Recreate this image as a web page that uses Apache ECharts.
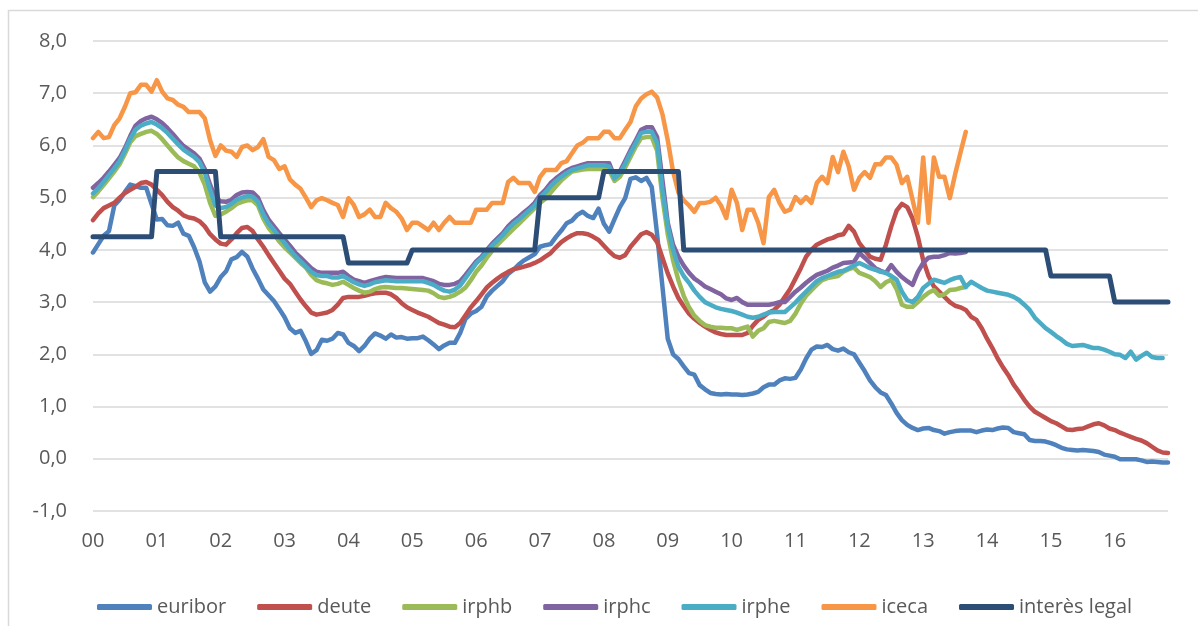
<!DOCTYPE html>
<html>
<head>
<meta charset="utf-8">
<title>tipus d'interès</title>
<script src="https://cdn.jsdelivr.net/npm/echarts@6/dist/echarts.min.js"></script>
<style>
    html, body {margin: 0; padding: 0; background: #fff;}
    #main {width: 1198px; height: 626px;}
</style>
</head>
<body>
<div id="main"></div>
<script>
// anys de l'eix (etiqueta cada gener)
var years = ['00', '01', '02', '03', '04', '05', '06', '07', '08', '09', '10', '11', '12', '13', '14', '15', '16'];
var lastMonth = 11; // dades fins a novembre 2016

var seriesNames = ['euribor', 'deute', 'irphb', 'irphc', 'irphe', 'iceca', 'interès legal'];
var seriesColors = ['#4f81bd', '#c0504d', '#9bbb59', '#8064a2', '#4bacc6', '#f79646', '#2c4d75'];

// dades mensuals, una fila per any
var euribor = [
    3.95, 4.11, 4.27, 4.36, 4.85, 4.96, 5.11, 5.25, 5.22, 5.19, 5.19, 4.88,
    4.58, 4.59, 4.47, 4.46, 4.52, 4.31, 4.27, 4.05, 3.78, 3.38, 3.20, 3.30,
    3.48, 3.59, 3.82, 3.86, 3.96, 3.87, 3.64, 3.45, 3.24, 3.13, 3.02, 2.87,
    2.71, 2.50, 2.41, 2.45, 2.25, 2.01, 2.08, 2.28, 2.26, 2.30, 2.41, 2.38,
    2.22, 2.16, 2.06, 2.16, 2.30, 2.40, 2.36, 2.30, 2.38, 2.32, 2.33, 2.30,
    2.31, 2.31, 2.34, 2.27, 2.19, 2.10, 2.17, 2.22, 2.22, 2.41, 2.68, 2.78,
    2.83, 2.91, 3.11, 3.22, 3.31, 3.40, 3.54, 3.62, 3.72, 3.80, 3.86, 3.92,
    4.06, 4.09, 4.11, 4.25, 4.37, 4.51, 4.56, 4.67, 4.73, 4.65, 4.61, 4.79,
    4.50, 4.35, 4.59, 4.82, 4.99, 5.36, 5.39, 5.32, 5.38, 5.20, 4.30, 3.30,
    2.30, 2.00, 1.91, 1.77, 1.64, 1.61, 1.41, 1.33, 1.26, 1.24, 1.23, 1.24,
    1.23, 1.23, 1.22, 1.23, 1.25, 1.28, 1.37, 1.42, 1.42, 1.50, 1.54, 1.53,
    1.55, 1.71, 1.92, 2.09, 2.15, 2.14, 2.18, 2.10, 2.07, 2.11, 2.04, 2.00,
    1.84, 1.68, 1.50, 1.37, 1.27, 1.22, 1.06, 0.88, 0.74, 0.65, 0.59, 0.55,
    0.58, 0.59, 0.55, 0.53, 0.48, 0.51, 0.53, 0.54, 0.54, 0.54, 0.51, 0.54,
    0.56, 0.55, 0.58, 0.60, 0.59, 0.51, 0.49, 0.47, 0.36, 0.34, 0.34, 0.33,
    0.30, 0.26, 0.21, 0.18, 0.17, 0.16, 0.17, 0.16, 0.15, 0.13, 0.08, 0.06,
    0.04, -0.01, -0.01, -0.01, -0.01, -0.03, -0.06, -0.05, -0.06, -0.07, -0.07
];

var deute = [
    4.57, 4.70, 4.80, 4.85, 4.90, 5.00, 5.09, 5.15, 5.21, 5.28, 5.30, 5.25,
    5.15, 5.05, 4.92, 4.82, 4.75, 4.66, 4.62, 4.60, 4.55, 4.45, 4.30, 4.20,
    4.12, 4.10, 4.20, 4.32, 4.42, 4.44, 4.36, 4.20, 4.06, 3.90, 3.75, 3.60,
    3.45, 3.35, 3.20, 3.05, 2.92, 2.80, 2.76, 2.78, 2.80, 2.85, 2.95, 3.08,
    3.10, 3.10, 3.10, 3.12, 3.15, 3.17, 3.18, 3.18, 3.15, 3.08, 2.98, 2.90,
    2.85, 2.80, 2.76, 2.72, 2.66, 2.60, 2.57, 2.53, 2.52, 2.60, 2.75, 2.90,
    3.02, 3.15, 3.28, 3.37, 3.45, 3.52, 3.58, 3.63, 3.65, 3.68, 3.71, 3.75,
    3.80, 3.87, 3.94, 4.05, 4.15, 4.22, 4.28, 4.32, 4.32, 4.30, 4.25, 4.19,
    4.08, 3.97, 3.88, 3.85, 3.90, 4.06, 4.18, 4.30, 4.34, 4.29, 4.15, 3.85,
    3.55, 3.30, 3.08, 2.92, 2.78, 2.68, 2.60, 2.53, 2.47, 2.42, 2.39, 2.37,
    2.37, 2.37, 2.37, 2.41, 2.55, 2.66, 2.72, 2.80, 2.85, 2.95, 3.10, 3.25,
    3.45, 3.65, 3.87, 4.00, 4.10, 4.15, 4.20, 4.23, 4.28, 4.30, 4.46, 4.35,
    4.13, 4.00, 3.87, 3.83, 3.81, 4.10, 4.45, 4.75, 4.88, 4.82, 4.60, 4.25,
    3.80, 3.50, 3.30, 3.20, 3.10, 3.00, 2.93, 2.90, 2.85, 2.72, 2.66, 2.50,
    2.30, 2.12, 1.92, 1.75, 1.60, 1.42, 1.28, 1.13, 1.00, 0.90, 0.84, 0.78,
    0.72, 0.68, 0.62, 0.56, 0.55, 0.57, 0.58, 0.62, 0.66, 0.68, 0.64, 0.58,
    0.55, 0.50, 0.46, 0.42, 0.38, 0.35, 0.30, 0.23, 0.16, 0.12, 0.11
];

// irph bancs, fins a setembre 2013
var irphb = [
    5.01, 5.12, 5.24, 5.37, 5.50, 5.64, 5.84, 6.06, 6.18, 6.22, 6.26, 6.28,
    6.22, 6.12, 6.00, 5.88, 5.77, 5.70, 5.65, 5.60, 5.48, 5.25, 4.90, 4.65,
    4.68, 4.73, 4.80, 4.88, 4.92, 4.95, 4.95, 4.85, 4.60, 4.42, 4.30, 4.16,
    4.05, 3.95, 3.85, 3.75, 3.66, 3.52, 3.42, 3.38, 3.36, 3.33, 3.35, 3.39,
    3.33, 3.27, 3.22, 3.18, 3.20, 3.25, 3.28, 3.29, 3.28, 3.27, 3.27, 3.26,
    3.25, 3.24, 3.23, 3.22, 3.17, 3.10, 3.08, 3.10, 3.14, 3.20, 3.28, 3.42,
    3.58, 3.70, 3.85, 3.98, 4.10, 4.20, 4.30, 4.40, 4.50, 4.60, 4.70, 4.80,
    4.90, 4.98, 5.10, 5.22, 5.33, 5.42, 5.50, 5.52, 5.54, 5.55, 5.55, 5.55,
    5.55, 5.52, 5.32, 5.40, 5.58, 5.78, 5.98, 6.14, 6.16, 6.16, 5.90, 5.00,
    4.30, 3.80, 3.42, 3.12, 2.90, 2.74, 2.64, 2.56, 2.53, 2.51, 2.51, 2.50,
    2.50, 2.47, 2.50, 2.53, 2.34, 2.45, 2.50, 2.62, 2.64, 2.62, 2.60, 2.64,
    2.78, 2.97, 3.12, 3.23, 3.33, 3.42, 3.46, 3.48, 3.50, 3.58, 3.63, 3.66,
    3.56, 3.52, 3.48, 3.40, 3.29, 3.38, 3.43, 3.25, 2.95, 2.91, 2.91, 3.00,
    3.10, 3.18, 3.23, 3.12, 3.15, 3.23, 3.24, 3.27, 3.29
];

// irph caixes, fins a setembre 2013
var irphc = [
    5.19, 5.28, 5.38, 5.50, 5.63, 5.76, 5.95, 6.18, 6.38, 6.47, 6.52, 6.55,
    6.50, 6.43, 6.33, 6.22, 6.10, 5.99, 5.92, 5.85, 5.75, 5.55, 5.25, 5.00,
    4.93, 4.92, 4.96, 5.05, 5.10, 5.11, 5.10, 5.00, 4.76, 4.58, 4.45, 4.32,
    4.20, 4.08, 3.95, 3.85, 3.75, 3.65, 3.58, 3.56, 3.56, 3.56, 3.56, 3.58,
    3.50, 3.43, 3.40, 3.37, 3.40, 3.43, 3.46, 3.48, 3.47, 3.46, 3.46, 3.46,
    3.46, 3.46, 3.46, 3.43, 3.40, 3.35, 3.33, 3.33, 3.35, 3.40, 3.52, 3.65,
    3.78, 3.87, 4.00, 4.12, 4.22, 4.32, 4.45, 4.55, 4.63, 4.72, 4.80, 4.90,
    5.05, 5.15, 5.28, 5.37, 5.45, 5.52, 5.57, 5.60, 5.63, 5.66, 5.66, 5.66,
    5.66, 5.66, 5.40, 5.50, 5.70, 5.91, 6.10, 6.30, 6.35, 6.35, 6.16, 5.34,
    4.52, 4.10, 3.87, 3.70, 3.56, 3.45, 3.38, 3.30, 3.25, 3.20, 3.15, 3.07,
    3.04, 3.08, 3.00, 2.95, 2.95, 2.95, 2.95, 2.95, 2.97, 3.00, 3.00, 3.10,
    3.20, 3.28, 3.37, 3.45, 3.52, 3.56, 3.60, 3.66, 3.70, 3.75, 3.76, 3.77,
    3.94, 3.85, 3.75, 3.65, 3.60, 3.56, 3.71, 3.58, 3.48, 3.40, 3.33, 3.58,
    3.75, 3.85, 3.87, 3.87, 3.90, 3.94, 3.93, 3.94, 3.96
];

// irph entitats, fins a octubre 2016
var irphe = [
    5.08, 5.18, 5.30, 5.43, 5.56, 5.70, 5.90, 6.13, 6.30, 6.38, 6.42, 6.45,
    6.40, 6.33, 6.24, 6.13, 6.02, 5.92, 5.85, 5.78, 5.68, 5.48, 5.15, 4.85,
    4.80, 4.82, 4.88, 4.96, 5.00, 5.03, 5.02, 4.92, 4.68, 4.50, 4.38, 4.25,
    4.13, 4.00, 3.88, 3.78, 3.68, 3.58, 3.52, 3.50, 3.50, 3.47, 3.47, 3.50,
    3.44, 3.38, 3.34, 3.31, 3.34, 3.38, 3.40, 3.42, 3.41, 3.40, 3.40, 3.40,
    3.40, 3.40, 3.40, 3.37, 3.33, 3.27, 3.22, 3.20, 3.24, 3.32, 3.46, 3.60,
    3.74, 3.84, 3.96, 4.08, 4.18, 4.28, 4.40, 4.50, 4.58, 4.67, 4.76, 4.85,
    5.00, 5.10, 5.22, 5.32, 5.40, 5.47, 5.53, 5.56, 5.59, 5.62, 5.62, 5.62,
    5.62, 5.60, 5.37, 5.46, 5.65, 5.86, 6.05, 6.24, 6.26, 6.26, 6.05, 5.15,
    4.45, 4.00, 3.68, 3.50, 3.37, 3.22, 3.10, 3.00, 2.95, 2.90, 2.87, 2.85,
    2.83, 2.80, 2.76, 2.72, 2.70, 2.72, 2.76, 2.80, 2.81, 2.81, 2.81, 2.90,
    2.99, 3.10, 3.20, 3.30, 3.40, 3.46, 3.50, 3.54, 3.58, 3.60, 3.65, 3.70,
    3.75, 3.70, 3.65, 3.62, 3.58, 3.56, 3.50, 3.43, 3.20, 3.04, 3.00, 3.10,
    3.27, 3.35, 3.43, 3.40, 3.37, 3.42, 3.46, 3.48, 3.29, 3.39, 3.33, 3.27,
    3.22, 3.20, 3.18, 3.16, 3.14, 3.10, 3.04, 2.95, 2.85, 2.70, 2.60, 2.50,
    2.43, 2.35, 2.28, 2.20, 2.16, 2.17, 2.18, 2.15, 2.12, 2.12, 2.09, 2.05,
    2.00, 1.99, 1.93, 2.05, 1.90, 1.97, 2.03, 1.95, 1.93, 1.93
];

// índex ceca, fins a setembre 2013
var iceca = [
    6.14, 6.26, 6.14, 6.16, 6.39, 6.52, 6.74, 7.00, 7.02, 7.16, 7.16, 7.03,
    7.25, 7.03, 6.90, 6.87, 6.78, 6.74, 6.64, 6.64, 6.64, 6.52, 6.10, 5.80,
    6.00, 5.90, 5.88, 5.78, 5.97, 6.00, 5.91, 5.97, 6.12, 5.78, 5.72, 5.55,
    5.60, 5.35, 5.25, 5.17, 5.00, 4.82, 4.95, 4.99, 4.95, 4.90, 4.86, 4.63,
    4.99, 4.86, 4.63, 4.68, 4.77, 4.63, 4.63, 4.90, 4.80, 4.73, 4.60, 4.38,
    4.52, 4.52, 4.45, 4.38, 4.52, 4.38, 4.52, 4.63, 4.52, 4.52, 4.52, 4.52,
    4.77, 4.77, 4.77, 4.90, 4.90, 4.90, 5.30, 5.38, 5.28, 5.28, 5.28, 5.11,
    5.40, 5.53, 5.53, 5.53, 5.66, 5.70, 5.85, 6.00, 6.05, 6.14, 6.14, 6.14,
    6.26, 6.26, 6.14, 6.14, 6.30, 6.45, 6.75, 6.90, 6.98, 7.03, 6.92, 6.60,
    6.10, 5.50, 5.10, 4.95, 4.85, 4.73, 4.90, 4.90, 4.92, 5.00, 4.85, 4.61,
    5.15, 4.90, 4.38, 4.77, 4.77, 4.52, 4.13, 5.01, 5.15, 4.90, 4.73, 4.77,
    5.01, 4.90, 5.01, 4.90, 5.28, 5.40, 5.28, 5.78, 5.49, 5.88, 5.60, 5.15,
    5.38, 5.49, 5.38, 5.64, 5.64, 5.77, 5.77, 5.63, 5.28, 5.40, 4.96, 4.52,
    5.77, 4.52, 5.77, 5.40, 5.40, 4.99, 5.45, 5.86, 6.26
];

// interès legal del diner
var legal = [
    4.25, 4.25, 4.25, 4.25, 4.25, 4.25, 4.25, 4.25, 4.25, 4.25, 4.25, 4.25,
    5.50, 5.50, 5.50, 5.50, 5.50, 5.50, 5.50, 5.50, 5.50, 5.50, 5.50, 5.50,
    4.25, 4.25, 4.25, 4.25, 4.25, 4.25, 4.25, 4.25, 4.25, 4.25, 4.25, 4.25,
    4.25, 4.25, 4.25, 4.25, 4.25, 4.25, 4.25, 4.25, 4.25, 4.25, 4.25, 4.25,
    3.75, 3.75, 3.75, 3.75, 3.75, 3.75, 3.75, 3.75, 3.75, 3.75, 3.75, 3.75,
    4.00, 4.00, 4.00, 4.00, 4.00, 4.00, 4.00, 4.00, 4.00, 4.00, 4.00, 4.00,
    4.00, 4.00, 4.00, 4.00, 4.00, 4.00, 4.00, 4.00, 4.00, 4.00, 4.00, 4.00,
    5.00, 5.00, 5.00, 5.00, 5.00, 5.00, 5.00, 5.00, 5.00, 5.00, 5.00, 5.00,
    5.50, 5.50, 5.50, 5.50, 5.50, 5.50, 5.50, 5.50, 5.50, 5.50, 5.50, 5.50,
    5.50, 5.50, 5.50, 4.00, 4.00, 4.00, 4.00, 4.00, 4.00, 4.00, 4.00, 4.00,
    4.00, 4.00, 4.00, 4.00, 4.00, 4.00, 4.00, 4.00, 4.00, 4.00, 4.00, 4.00,
    4.00, 4.00, 4.00, 4.00, 4.00, 4.00, 4.00, 4.00, 4.00, 4.00, 4.00, 4.00,
    4.00, 4.00, 4.00, 4.00, 4.00, 4.00, 4.00, 4.00, 4.00, 4.00, 4.00, 4.00,
    4.00, 4.00, 4.00, 4.00, 4.00, 4.00, 4.00, 4.00, 4.00, 4.00, 4.00, 4.00,
    4.00, 4.00, 4.00, 4.00, 4.00, 4.00, 4.00, 4.00, 4.00, 4.00, 4.00, 4.00,
    3.50, 3.50, 3.50, 3.50, 3.50, 3.50, 3.50, 3.50, 3.50, 3.50, 3.50, 3.50,
    3.00, 3.00, 3.00, 3.00, 3.00, 3.00, 3.00, 3.00, 3.00, 3.00, 3.00
];

// categories mensuals: "aa-mm"
var months = [];
for (var y = 0; y < years.length; y++) {
    var nMonths = (y === years.length - 1) ? lastMonth : 12;
    for (var m = 1; m <= nMonths; m++) {
        months.push(years[y] + '-' + (m < 10 ? '0' + m : m));
    }
}

var seriesData = [euribor, deute, irphb, irphc, irphe, iceca, legal];

var series = [];
for (var i = 0; i < seriesNames.length; i++) {
    series.push({
        name: seriesNames[i],
        type: 'line',
        data: seriesData[i],
        symbol: 'none',
        smooth: false,
        lineStyle: {width: i === 6 ? 5 : 4.5, color: seriesColors[i], cap: 'round', join: 'round'},
        itemStyle: {color: seriesColors[i]}
    });
}

var fontFamily = '"Open Sans", "Liberation Sans", sans-serif';

var chart = echarts.init(document.getElementById('main'), null, {renderer: 'canvas'});
chart.setOption({
    animation: false,
    backgroundColor: '#fff',
    textStyle: {fontFamily: fontFamily},
    graphic: [{
        type: 'rect',
        shape: {x: 8.5, y: 10.5, width: 1200, height: 640},
        style: {fill: 'none', stroke: '#d9d9d9', lineWidth: 1.5},
        silent: true
    }],
    grid: {left: 93, right: 30, top: 41, bottom: 115, containLabel: false},
    legend: {
        bottom: 4,
        left: 92,
        icon: 'roundRect',
        itemWidth: 55,
        itemHeight: 6,
        itemGap: 31,
        textStyle: {fontSize: 20, color: '#595959', fontFamily: fontFamily},
        data: seriesNames
    },
    xAxis: {
        type: 'category',
        data: months,
        boundaryGap: false,
        axisLine: {show: false},
        axisTick: {show: false},
        splitLine: {show: false},
        axisLabel: {
            interval: 11,
            margin: 20,
            fontSize: 20,
            color: '#595959',
            fontFamily: fontFamily,
            formatter: function (value) {
                return value.split('-')[0];
            }
        }
    },
    yAxis: {
        type: 'value',
        min: -1,
        max: 8,
        interval: 1,
        axisLine: {show: false},
        axisTick: {show: false},
        axisLabel: {
            margin: 26,
            fontSize: 20,
            color: '#595959',
            fontFamily: fontFamily,
            formatter: function (v) {
                return v.toFixed(1).replace('.', ',');
            }
        },
        splitLine: {lineStyle: {color: '#d9d9d9', width: 1.5}}
    },
    series: series
});
</script>
</body>
</html>
